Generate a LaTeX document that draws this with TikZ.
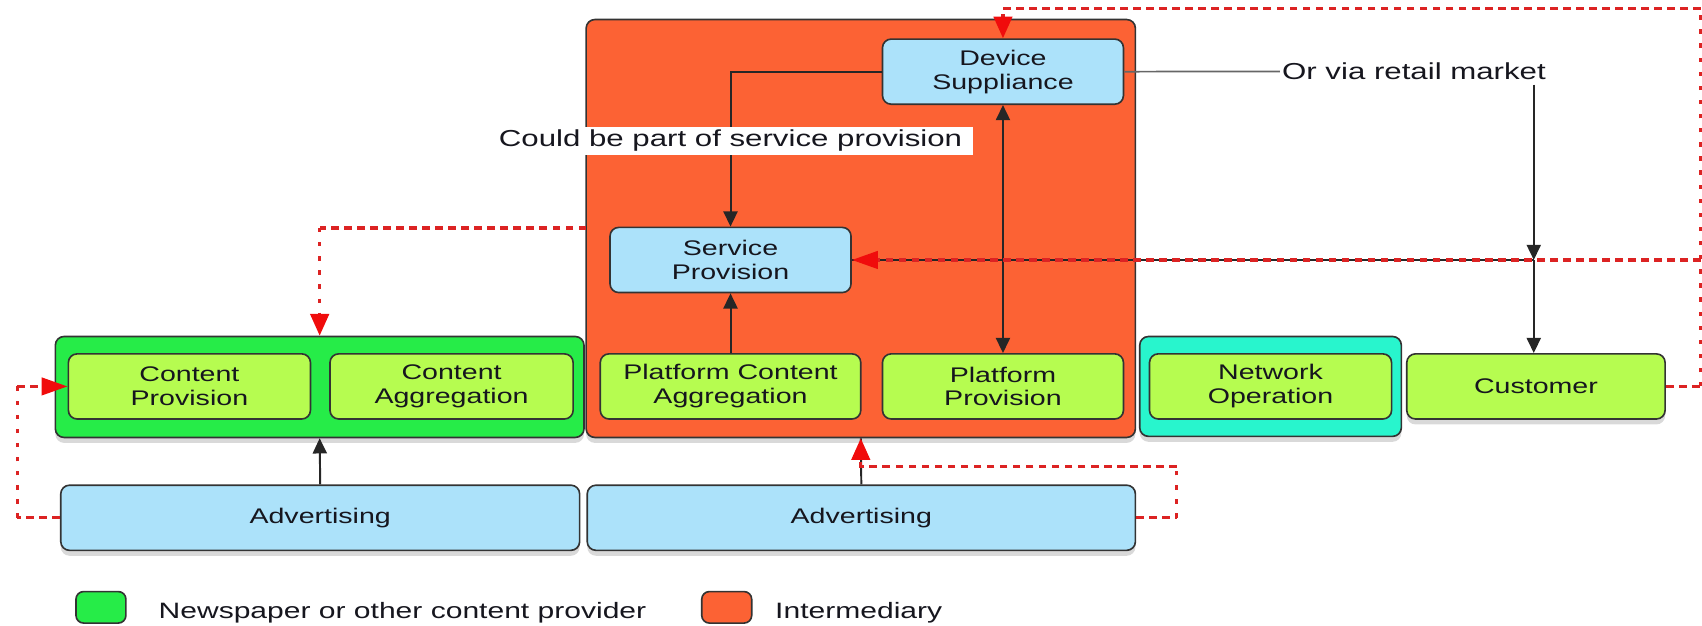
\documentclass[tikz,border=0pt]{standalone}
\usepackage{fontspec}
\setmainfont[FakeStretch=1.35]{Liberation Sans}
\usetikzlibrary{arrows.meta,shadows}
\definecolor{cOrange}{RGB}{252,98,52}
\definecolor{cGreen}{RGB}{38,236,72}
\definecolor{cLime}{RGB}{182,252,80}
\definecolor{cBlue}{RGB}{172,226,250}
\definecolor{cCyan}{RGB}{40,245,205}
\definecolor{cRed}{RGB}{220,35,35}
\definecolor{cTip}{RGB}{240,12,12}
\definecolor{cText}{RGB}{22,22,30}
\newcommand{\boxfnt}{\fontsize{19.5}{22}\selectfont}
\newcommand{\lblfnt}{\fontsize{21.3}{24}\selectfont}
\newcommand{\legfnt}{\fontsize{20.5}{24}\selectfont}
\tikzset{
  inbox/.style={draw=black!80, line width=1.5pt, rounded corners=8pt, align=center,
    inner sep=0pt, font=\boxfnt, text=cText},
  box/.style={inbox, drop shadow={shadow xshift=0pt, shadow yshift=-5pt, opacity=0.3}},
  legbox/.style={draw=black!80, line width=1.5pt, rounded corners=7pt,
    minimum width=46pt, minimum height=29pt, inner sep=0pt},
  lbl/.style={font=\lblfnt, text=cText, inner sep=2pt},
  legtxt/.style={font=\legfnt, text=cText, inner sep=0pt},
  blk/.style={draw=black!85, line width=1.8pt},
  gline/.style={draw=black!60, line width=1.6pt},
  btip/.tip={Triangle[length=14pt,width=13pt]},
  rtip/.tip={Triangle[length=20pt,width=17pt,color=cTip]},
  rhtip/.tip={Triangle[length=24pt,width=16pt,color=cTip]},
  rdash/.style={draw=cRed, line width=3pt, dash pattern=on 7pt off 5pt},
  rdot/.style={draw=cRed, line width=3pt, dash pattern=on 4pt off 9pt}
}
\begin{document}
\begin{tikzpicture}[x=1pt,y=-1pt]
\useasboundingbox (0,0) rectangle (1568,576);
% containers
\node[box, fill=cOrange, minimum width=506pt, minimum height=385pt] (int) at (793,210.5) {};
\node[box, fill=cGreen, minimum width=487pt, minimum height=93pt] (np) at (294.5,356.5) {};
\node[box, fill=cCyan, minimum width=241pt, minimum height=92pt] (net) at (1170.5,356) {};
% inner nodes
\node[inbox, fill=cLime, minimum width=223pt, minimum height=60pt] (cp) at (174.5,356) {Content\\Provision};
\node[inbox, fill=cLime, minimum width=224pt, minimum height=60pt] (ca) at (416,356) {Content\\Aggregation};
\node[inbox, fill=cLime, minimum width=240pt, minimum height=60pt] (pca) at (673,356) {Platform Content\\Aggregation};
\node[inbox, fill=cLime, minimum width=222pt, minimum height=60pt] (pp) at (924,356) {Platform\\Provision};
\node[inbox, fill=cLime, minimum width=223pt, minimum height=60pt] (no) at (1170.5,356) {Network\\Operation};
\node[box, fill=cLime, minimum width=238pt, minimum height=60pt] (cust) at (1415,356) {Customer};
\node[inbox, fill=cBlue, minimum width=222pt, minimum height=60pt] (ds) at (924,66) {Device\\Suppliance};
\node[inbox, fill=cBlue, minimum width=222pt, minimum height=60pt] (sp) at (673,239.5) {Service\\Provision};
\node[box, fill=cBlue, minimum width=478pt, minimum height=60pt] (adv1) at (295,477) {Advertising};
\node[box, fill=cBlue, minimum width=505pt, minimum height=60pt] (adv2) at (793.5,477) {Advertising};
% coordinates
\coordinate (jn) at (1413,239.5);
\coordinate (rs) at (1413,78);
\coordinate (rtop) at (1567,8);
\coordinate (rmid) at (1567,239.5);
\coordinate (rbot) at (1567,356);
\coordinate (l1) at (16,477);
\coordinate (l2) at (16,356);
\coordinate (a1) at (1084,477);
\coordinate (a2) at (1084,430);
\coordinate (sw) at (540,210);
\coordinate (sc) at (294.5,210);
% black connectors
\draw[blk, -{btip}] (ds.west) -| (sp.north);
\draw[blk, -{btip}] (pca.north) -- (sp.south);
\draw[blk, {btip}-{btip}] (ds.south) -- (pp.north);
\draw[blk, -{btip}] (adv1.north) -- (np.south);
\draw[blk] (adv2.north) -- (int.south);
\node[lbl, fill=white, inner xsep=10pt, inner ysep=3pt, anchor=base] (could) at (673,135) {Could be part of service provision};
\node[lbl, anchor=base west] (retail) at (1179,73.5) {Or via retail market};
\draw[gline] (ds.east) -- (retail.west);
\draw[blk, -{btip}] (rs) -- (jn);
\draw[blk, -{btip}] (jn) -- (jn |- cust.north);
\draw[blk] (jn) -- (sp.east |- jn);
% red connectors
\draw[rdash] (cust.east) -- (rbot);
\draw[rdot] (rbot) -- (rtop);
\draw[rdash, -{rtip}] (rtop) -| (ds.north);
\draw[rdash, -{rhtip}] (rmid) -- (sp.east |- rmid);
\draw[rdash] (sw) -- (sc);
\draw[rdot, -{rtip}] (sc) -- (np.north);
\draw[rdash] (adv1.west) -- (l1);
\draw[rdot] (l1) -- (l2);
\draw[rdash, -{rhtip}] (l2) -- (cp.west);
\draw[rdash] (adv2.east) -- (a1);
\draw[rdot] (a1) -- (a2);
\draw[rdash, -{rtip}] (a2) -- (int.south |- a2) -- (int.south);
% legend
\node[legbox, fill=cGreen] (lg1) at (93,559.5) {};
\node[legtxt, anchor=base west] (lt1) at (146,570) {Newspaper or other content provider};
\node[legbox, fill=cOrange] (lg2) at (669.5,559.5) {};
\node[legtxt, anchor=base west] (lt2) at (714,570) {Intermediary};
\end{tikzpicture}
\end{document}
